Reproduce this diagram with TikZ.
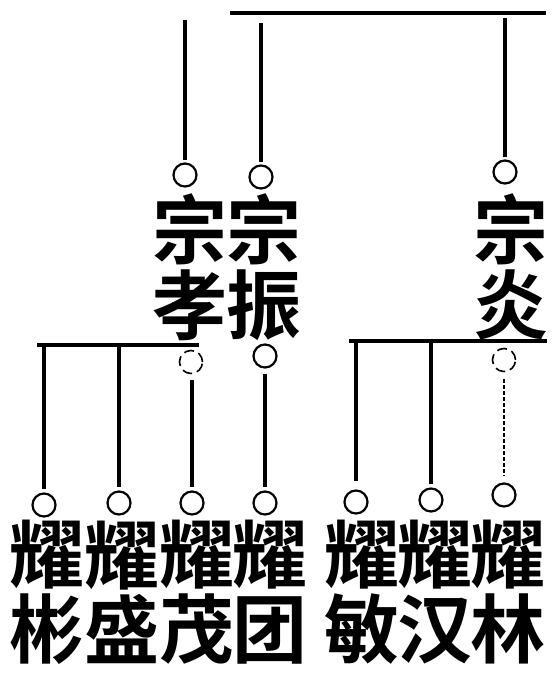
\documentclass[tikz,border=0pt]{standalone}
\usepackage{fontspec}
\newfontfamily\cjk{Noto Sans CJK SC}[UprightFont=* Bold]
\usetikzlibrary{positioning}

\tikzset{
  ring/.style={circle, draw, line width=2.2pt, minimum size=23pt, inner sep=0pt},
  faintring/.style={ring, line width=1.6pt, dash pattern=on 10pt off 5pt},
  person/.style={font=\cjk\fontsize{75}{75}\selectfont, align=center, inner sep=0pt},
  stem/.style={line width=3.4pt},
  bar/.style={line width=4.2pt},
}

\begin{document}
\begin{tikzpicture}[x=1pt, y=-1pt]
    \useasboundingbox (0,0) rectangle (554,674);

    % generation of 宗
    \coordinate (top-l) at (230,13);
    \coordinate (top-r) at (546,13);
    \draw[bar] (top-l) -- (top-r);

    \node[ring] (zx-o) at (185,175) {};
    \node[ring] (zz-o) at (261,177) {};
    \node[ring] (zy-o) at (505,172) {};
    \coordinate (zx-top) at (185,20);
    \coordinate (zz-top) at (261,23);
    \coordinate (zy-top) at (505,18);
    \draw[stem, shorten >=2pt] (zx-top) -- (zx-o.north);
    \draw[stem, shorten >=2pt] (zz-top) -- (zz-o.north);
    \draw[stem, shorten >=2pt] (zy-top) -- (zy-o.north);

    \node[person] (zx) at (190,267) {宗\\孝};
    \node[person] (zz) at (264,267) {宗\\振};
    \node[person] (zy) at (511,267) {宗\\炎};

    % generation of 耀
    \coordinate (lb-l) at (37,345);
    \coordinate (lb-r) at (199,345);
    \draw[bar] (lb-l) -- (lb-r);
    \coordinate (rb-l) at (349,341);
    \coordinate (rb-r) at (547,341);
    \draw[bar] (rb-l) -- (rb-r);

    \node[faintring] (ym-up) at (191,362) {};
    \node[ring] (yt-up) at (265,356) {};
    \node[faintring] (yl-up) at (504,360) {};

    \node[ring] (yb-o) at (44,505) {};
    \node[ring] (ys-o) at (119,503) {};
    \node[ring] (ym-o) at (192,503) {};
    \node[ring] (yt-o) at (265,503) {};
    \node[ring] (ymin-o) at (356,502) {};
    \node[ring] (yh-o) at (431,500) {};
    \node[ring] (yl-o) at (504,495) {};

    \draw[stem, shorten >=3pt] (yb-o.north |- lb-l) -- (yb-o.north);
    \draw[stem, shorten >=3pt] (ys-o.north |- lb-l) -- (ys-o.north);
    \draw[stem, shorten <=6pt, shorten >=3pt] (ym-o.north |- ym-up.south) -- (ym-o.north);
    \draw[stem, shorten <=5pt, shorten >=3pt] (yt-up.south) -- (yt-o.north);
    \draw[stem, shorten >=8pt] (ymin-o.north |- rb-l) -- (ymin-o.north);
    \draw[stem, shorten >=3pt] (yh-o.north |- rb-l) -- (yh-o.north);
    \draw[line width=1.6pt, dash pattern=on 4pt off 2pt, shorten <=7pt, shorten >=6pt] (yl-up.south) -- (yl-o.north);

    \node[person] (yb) at (47,592) {耀\\彬};
    \node[person] (ys) at (122,592) {耀\\盛};
    \node[person] (ym) at (197,592) {耀\\茂};
    \node[person] (yt) at (270,592) {耀\\团};
    \node[person] (ymin) at (362,592) {耀\\敏};
    \node[person] (yh) at (435,592) {耀\\汉};
    \node[person] (yl) at (508,592) {耀\\林};
\end{tikzpicture}
\end{document}
